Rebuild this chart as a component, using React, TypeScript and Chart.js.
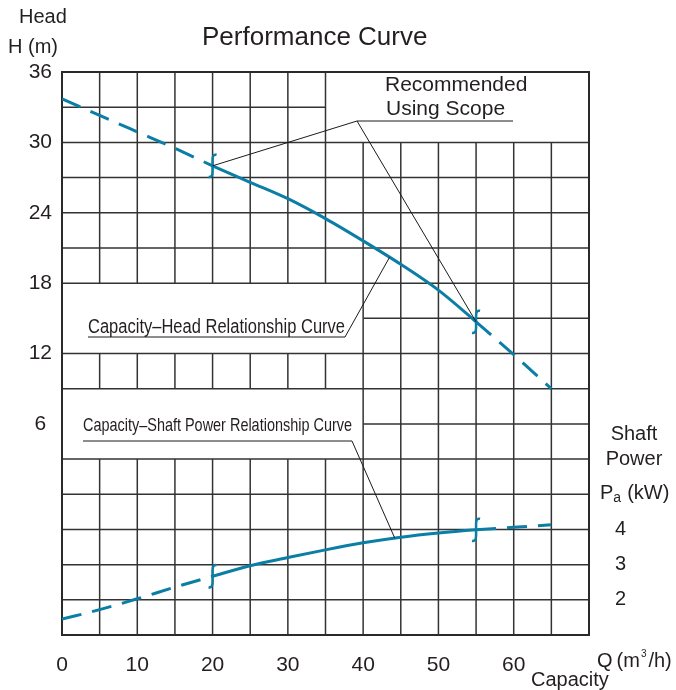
import React, { useEffect, useRef } from 'react';
import { Chart, registerables } from 'chart.js';

Chart.register(...registerables);

// ---- data ----
const capacity = [0, 5, 10, 15, 20, 25, 30, 35, 40, 45, 50, 55, 60, 65];
const head = [33.7, 32.3, 30.9, 29.5, 28.0, 26.6, 25.2, 23.5, 21.6, 19.6, 17.4, 14.7, 11.9, 9.0];
const shaftPower = [1.45, 1.72, 2.03, 2.36, 2.67, 2.97, 3.2, 3.42, 3.62, 3.78, 3.9, 3.99, 4.06, 4.13];
const scopeQ = [20, 55];
const xTickLabels = [0, 10, 20, 30, 40, 50, 60];
const headTickLabels = [6, 12, 18, 24, 30, 36];
const powerTickLabels = [2, 3, 4];
const gridQ = [5, 10, 15, 20, 25, 30, 35, 40, 45, 50, 55, 60, 65];
const gridH = [-9, -6, -3, 0, 3, 6, 9, 12, 15, 18, 21, 24, 27, 30, 33];
const blankRegions = [
  { q0: 35, q1: 70, h0: 30, h1: 36 },
  { q0: 0, q1: 40, h0: 12, h1: 18 },
  { q0: 0, q1: 40, h0: 3, h1: 9 },
];

const CURVE = '#0a7ea4';
const GRID = '#333333';
const TEXT = '#231f20';
const FONT = '"Liberation Sans", Arial, sans-serif';

function interp(xs: number[], ys: number[], q: number) {
  for (let i = 0; i < xs.length - 1; i++) {
    if (q >= xs[i] && q <= xs[i + 1]) {
      const t = (q - xs[i]) / (xs[i + 1] - xs[i]);
      return ys[i] + t * (ys[i + 1] - ys[i]);
    }
  }
  return ys[ys.length - 1];
}

function subtract(a: number, b: number, blanks: [number, number][]) {
  let segs: [number, number][] = [[a, b]];
  for (const [s, e] of blanks) {
    const next: [number, number][] = [];
    for (const [p, q] of segs) {
      if (e <= p || s >= q) { next.push([p, q]); continue; }
      if (s > p) next.push([p, s]);
      if (e < q) next.push([e, q]);
    }
    segs = next;
  }
  return segs;
}

function fitText(ctx: CanvasRenderingContext2D, text: string, x: number, y: number, width: number, font: string) {
  ctx.save();
  ctx.font = font;
  const w = ctx.measureText(text).width;
  ctx.translate(x, y);
  ctx.scale(width / w, 1);
  ctx.textAlign = 'left';
  ctx.textBaseline = 'alphabetic';
  ctx.fillText(text, 0, 0);
  ctx.restore();
}

const decorPlugin = {
  id: 'decor',
  beforeDatasetsDraw(chart: any) {
    const { ctx, chartArea: a, scales } = chart;
    const x = scales.x, y = scales.y;
    ctx.save();
    ctx.strokeStyle = GRID;
    ctx.lineWidth = 1.5;
    for (const q of gridQ) {
      const px = x.getPixelForValue(q);
      const blanks = blankRegions.filter(r => q > r.q0 && q < r.q1).map(r => [r.h0, r.h1] as [number, number]);
      for (const [h0, h1] of subtract(-12, 36, blanks)) {
        ctx.beginPath();
        ctx.moveTo(px, y.getPixelForValue(h0));
        ctx.lineTo(px, y.getPixelForValue(h1));
        ctx.stroke();
      }
    }
    for (const h of gridH) {
      const py = y.getPixelForValue(h);
      const blanks = blankRegions.filter(r => h > r.h0 && h < r.h1).map(r => [r.q0, r.q1] as [number, number]);
      for (const [q0, q1] of subtract(0, 70, blanks)) {
        ctx.beginPath();
        ctx.moveTo(x.getPixelForValue(q0), py);
        ctx.lineTo(x.getPixelForValue(q1), py);
        ctx.stroke();
      }
    }
    ctx.lineWidth = 2;
    ctx.strokeStyle = '#2a2a2a';
    ctx.strokeRect(a.left, a.top, a.right - a.left, a.bottom - a.top);
    ctx.restore();
  },
  afterDatasetsDraw(chart: any) {
    const { ctx, scales } = chart;
    const x = scales.x, y = scales.y, y2 = scales.y2;
    ctx.save();
    // scope markers
    ctx.strokeStyle = CURVE;
    ctx.lineWidth = 2.5;
    for (const q of scopeQ) {
      const px = x.getPixelForValue(q);
      const pts = [y.getPixelForValue(interp(capacity, head, q)), y2.getPixelForValue(interp(capacity, shaftPower, q))];
      for (const py of pts) {
        ctx.beginPath();
        ctx.moveTo(px + 4, py - 11);
        ctx.quadraticCurveTo(px, py - 12, px, py - 6);
        ctx.lineTo(px, py + 6);
        ctx.quadraticCurveTo(px, py + 12, px - 4, py + 11);
        ctx.stroke();
      }
    }
    // leader lines
    ctx.strokeStyle = '#1a1a1a';
    ctx.lineWidth = 1;
    const h20 = [x.getPixelForValue(scopeQ[0]), y.getPixelForValue(interp(capacity, head, scopeQ[0]))];
    const h55 = [x.getPixelForValue(scopeQ[1]), y.getPixelForValue(interp(capacity, head, scopeQ[1]))];
    ctx.beginPath();
    ctx.moveTo(h20[0], h20[1]);
    ctx.lineTo(357, 121);
    ctx.lineTo(h55[0], h55[1]);
    ctx.moveTo(357, 121);
    ctx.lineTo(513, 121);
    ctx.stroke();

    const hq = 43.5;
    ctx.beginPath();
    ctx.moveTo(88, 337);
    ctx.lineTo(345, 337);
    ctx.lineTo(x.getPixelForValue(hq), y.getPixelForValue(interp(capacity, head, hq)));
    ctx.stroke();

    const pq = 44.2;
    ctx.beginPath();
    ctx.moveTo(83, 441);
    ctx.lineTo(352, 441);
    ctx.lineTo(x.getPixelForValue(pq), y2.getPixelForValue(interp(capacity, shaftPower, pq)));
    ctx.stroke();

    // texts
    ctx.fillStyle = TEXT;
    ctx.textBaseline = 'alphabetic';
    ctx.textAlign = 'left';
    ctx.font = `26px ${FONT}`;
    ctx.fillText('Performance Curve', 202, 45);
    ctx.font = `21px ${FONT}`;
    ctx.fillText('Recommended', 385, 91);
    ctx.fillText('Using Scope', 386, 115);

    fitText(ctx, 'Capacity\u2013Head Relationship Curve', 88, 333, 257, `20px ${FONT}`);
    fitText(ctx, 'Capacity\u2013Shaft Power Relationship Curve', 83, 431, 269, `19px ${FONT}`);

    ctx.font = `20px ${FONT}`;
    ctx.fillText('Head', 19, 23);
    ctx.fillText('H (m)', 8, 53);

    ctx.textAlign = 'center';
    ctx.fillText('Shaft', 634, 440);
    ctx.fillText('Power', 634, 465);
    ctx.textAlign = 'left';
    // Pa (kW)
    let cx = 600;
    ctx.font = `20px ${FONT}`;
    ctx.fillText('P', cx, 499);
    cx += ctx.measureText('P').width;
    ctx.font = `14px ${FONT}`;
    ctx.fillText('a', cx, 502);
    cx += ctx.measureText('a').width + 6;
    ctx.font = `20px ${FONT}`;
    ctx.fillText('(kW)', cx, 499);

    // Q (m3/h)
    cx = 597;
    ctx.fillText('Q', cx, 667);
    cx += ctx.measureText('Q').width + 4;
    ctx.fillText('(m', cx, 667);
    cx += ctx.measureText('(m').width + 1;
    ctx.font = `10px ${FONT}`;
    ctx.fillText('3', cx, 657);
    cx += ctx.measureText('3').width + 2;
    ctx.font = `20px ${FONT}`;
    ctx.fillText('/h)', cx, 667);

    ctx.fillText('Capacity', 531, 686);
    ctx.restore();
  },
};

export default function App() {
  const ref = useRef<HTMLCanvasElement | null>(null);
  useEffect(() => {
    if (!ref.current) return;
    const dash = (c: any) => (c.p1.parsed.x <= scopeQ[0] || c.p0.parsed.x >= scopeQ[1]) ? [20, 11] : undefined;
    const tickFont = { family: FONT, size: 21 };
    const chart = new Chart(ref.current, {
      type: 'line',
      data: {
        datasets: [
          {
            label: 'Head',
            data: capacity.map((q, i) => ({ x: q, y: head[i] })),
            borderColor: CURVE,
            borderWidth: 3,
            pointRadius: 0,
            cubicInterpolationMode: 'monotone',
            yAxisID: 'y',
            segment: { borderDash: dash },
          },
          {
            label: 'Shaft Power',
            data: capacity.map((q, i) => ({ x: q, y: shaftPower[i] })),
            borderColor: CURVE,
            borderWidth: 3,
            pointRadius: 0,
            cubicInterpolationMode: 'monotone',
            yAxisID: 'y2',
            segment: { borderDash: dash },
          },
        ],
      },
      options: {
        responsive: false,
        maintainAspectRatio: false,
        animation: false,
        devicePixelRatio: 1,
        layout: { padding: { top: 72, left: 20, right: 0, bottom: 0 } },
        plugins: { legend: { display: false }, tooltip: { enabled: false }, title: { display: false } },
        scales: {
          x: {
            type: 'linear',
            min: 0,
            max: 70,
            grid: { display: false, drawTicks: false },
            border: { display: false },
            ticks: {
              stepSize: 10,
              autoSkip: false,
              maxRotation: 0,
              padding: 18,
              color: TEXT,
              font: tickFont,
              callback: (v: any) => (xTickLabels.includes(Number(v)) ? String(v) : ''),
            },
            afterFit: (axis: any) => { axis.height = 55; },
          },
          y: {
            type: 'linear',
            position: 'left',
            min: -12,
            max: 36,
            grid: { display: false, drawTicks: false },
            border: { display: false },
            ticks: {
              stepSize: 6,
              autoSkip: false,
              padding: 10,
              crossAlign: 'center',
              color: TEXT,
              font: tickFont,
              callback: (v: any) => (headTickLabels.includes(Number(v)) ? String(v) : ''),
            },
            afterFit: (axis: any) => { axis.width = 42; },
          },
          y2: {
            type: 'linear',
            position: 'right',
            min: 1,
            max: 17,
            grid: { display: false, drawTicks: false },
            border: { display: false },
            ticks: {
              stepSize: 1,
              autoSkip: false,
              padding: 26,
              crossAlign: 'center',
              color: TEXT,
              font: { family: FONT, size: 20 },
              callback: (v: any) => (powerTickLabels.includes(Number(v)) ? String(v) : ''),
            },
            afterFit: (axis: any) => { axis.width = 87; },
          },
        },
      } as any,
      plugins: [decorPlugin],
    });
    return () => chart.destroy();
  }, []);
  return (
    <div style={{ position: 'absolute', left: 0, top: 0, width: 676, height: 690, background: '#fff' }}>
      <canvas ref={ref} width={676} height={690} style={{ display: 'block' }} />
    </div>
  );
}
